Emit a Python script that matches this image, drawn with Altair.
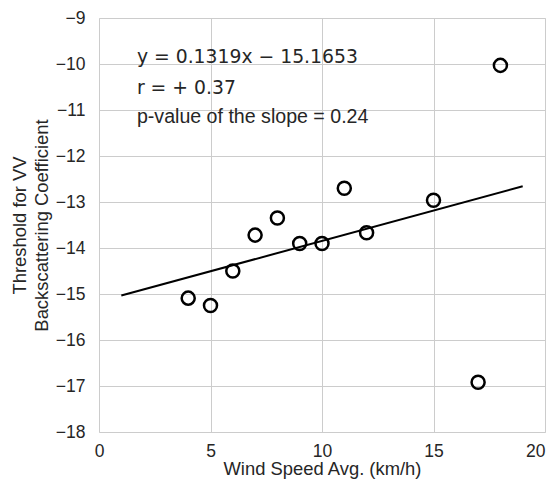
import altair as alt
import pandas as pd

wind = [4, 5, 6, 7, 8, 9, 10, 11, 12, 15, 17, 18]
threshold = [-15.09, -15.25, -14.50, -13.72, -13.35, -13.90, -13.90, -12.70, -13.67, -12.96, -16.92, -10.03]

slope = 0.1319
intercept = -15.1653
line_x = [1, 19]
line_y = [slope * v + intercept for v in line_x]

ann_x = [1.7, 1.7, 1.7]
ann_y = [-9.85, -10.52, -11.15]
ann_text = ["y = 0.1319x − 15.1653", "r =  + 0.37", "p-value of the slope = 0.24"]
ann_font = ["DejaVu Sans", "DejaVu Sans", "Liberation Sans"]
ann_size = [18.8, 18.8, 19.6]

pts = pd.DataFrame({"x": wind, "y": threshold})
ln = pd.DataFrame({"x": line_x, "y": line_y})

xs = alt.Scale(domain=[0, 20], nice=False)
ys = alt.Scale(domain=[-18, -9], nice=False)

xax = alt.Axis(values=[0, 5, 10, 15, 20], title="Wind Speed Avg. (km/h)", grid=True,
               gridColor="#cccccc", ticks=False, domain=False, labelFont="Liberation Sans",
               labelFontSize=17.5, labelColor="#262626", titleFont="Liberation Sans",
               titleFontSize=18.4, titleColor="#262626", titleFontWeight="normal",
               labelPadding=10, titlePadding=0,
               labelAlign={"expr": "datum.value == 20 ? 'right' : 'center'"})
yax = alt.Axis(values=list(range(-18, -8)), title=["Threshold for VV", "Backscattering Coefficient"],
               grid=True, gridColor="#cccccc", ticks=False, domain=False,
               labelFont="Liberation Sans", labelFontSize=17.5, labelColor="#262626",
               titleFont="Liberation Sans", titleFontSize=18.4, titleColor="#262626",
               titleFontWeight="normal", labelPadding=14, titlePadding=4, titleLineHeight=22)

points = alt.Chart(pts).mark_point(shape="circle", filled=False, color="black",
                                   strokeWidth=2.5, size=170, opacity=1).encode(
    x=alt.X("x:Q", scale=xs, axis=xax),
    y=alt.Y("y:Q", scale=ys, axis=yax),
)

line = alt.Chart(ln).mark_line(color="black", strokeWidth=2).encode(
    x=alt.X("x:Q", scale=xs),
    y=alt.Y("y:Q", scale=ys),
)

texts = []
for i in range(3):
    df = pd.DataFrame({"x": [ann_x[i]], "y": [ann_y[i]], "t": [ann_text[i]]})
    texts.append(alt.Chart(df).mark_text(align="left", baseline="middle", fontSize=ann_size[i],
                                         font=ann_font[i], color="#262626").encode(
        x=alt.X("x:Q", scale=xs), y=alt.Y("y:Q", scale=ys), text="t:N"))

chart = alt.layer(line, points, *texts).properties(
    width=446, height=414,
    autosize=alt.AutoSizeParams(type="none"),
    padding={"left": 91, "top": 10, "right": 2, "bottom": 47},
).configure_view(stroke="#cccccc", strokeWidth=1.2).configure(background="white")

chart.save("out.html", embed_options={"renderer": "svg", "actions": False})
